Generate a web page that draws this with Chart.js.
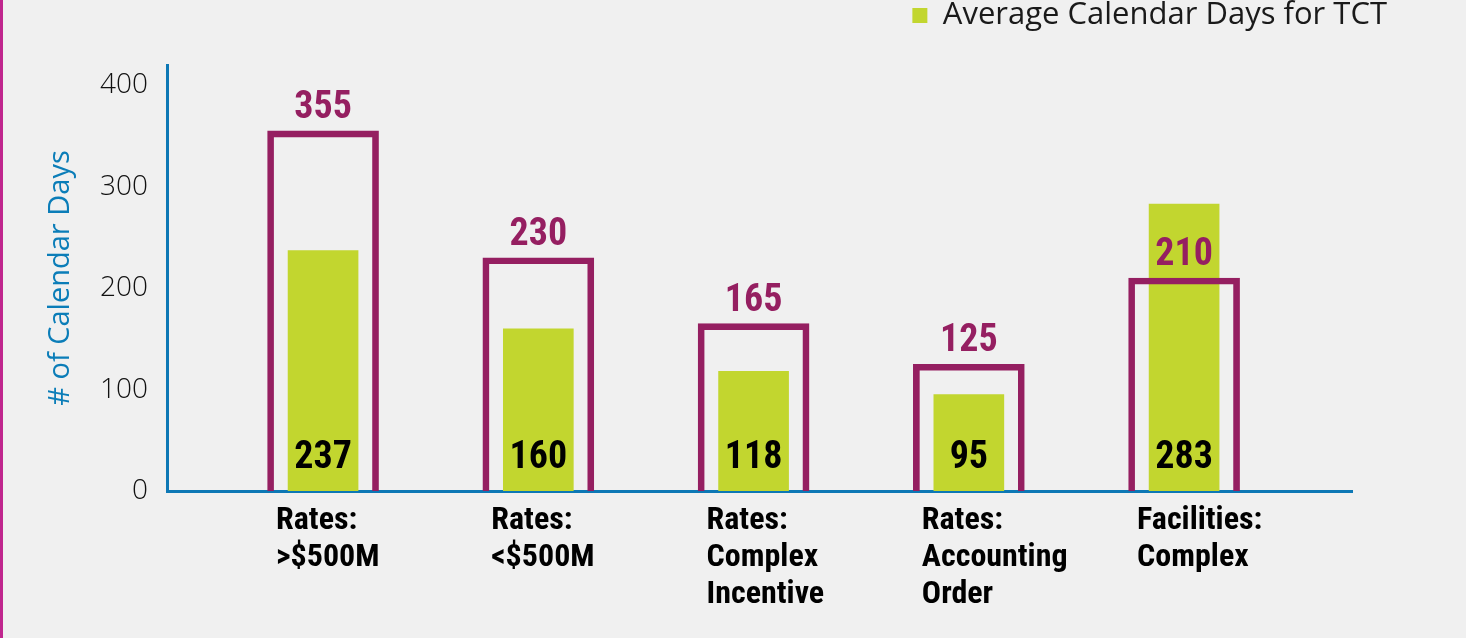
<!DOCTYPE html>
<html>
<head>
<meta charset="utf-8">
<script src="https://cdn.jsdelivr.net/npm/chart.js@4.4.1/dist/chart.umd.min.js"></script>
<style>
  html, body { margin: 0; padding: 0; background: #f0f0f0; overflow: hidden; }
  #wrap { position: relative; width: 1466px; height: 638px; }
  #edge { position: absolute; left: 0; top: 0; width: 3px; height: 638px; background: #c0268e; }
</style>
</head>
<body>
<div id="wrap">
  <canvas id="c"></canvas>
  <div id="edge"></div>
</div>
<script>
// ---- data ----
const categories = [
  ["Rates:", ">$500M"],
  ["Rates:", "<$500M"],
  ["Rates:", "Complex", "Incentive"],
  ["Rates:", "Accounting", "Order"],
  ["Facilities:", "Complex"]
];
const avgTctDays = [237, 160, 118, 95, 283];
const targetDays = [355, 230, 165, 125, 210];
const yTickValues = [0, 100, 200, 300, 400];
const legendLabel = "Average Calendar Days for TCT";
const targetLabel = "Target Calendar Days";
const yTitle = "# of Calendar Days";

const GREEN = '#c2d62f';
const PLUM = '#951f61';
const BLUE = '#0d78b5';
const NARROW = "'Noto Sans ExtraCondensed', 'Roboto Condensed', 'Noto Sans Condensed', 'DejaVu Sans Condensed', sans-serif";
const SANS = "'Open Sans', 'Noto Sans', sans-serif";

const toPoints = arr => arr.map((v, i) => ({ x: i, y: v }));

const valueLabels = {
  id: 'valueLabels',
  afterDatasetsDraw(chart) {
    const ctx = chart.ctx;
    chart.data.datasets.forEach((ds, di) => {
      const meta = chart.getDatasetMeta(di);
      meta.data.forEach((bar, i) => {
        const p = bar.getProps(['x', 'y', 'base'], true);
        ctx.save();
        ctx.font = "bold 38px " + NARROW;
        ctx.fillStyle = ds.valueColor;
        ctx.textAlign = 'center';
        ctx.textBaseline = 'alphabetic';
        const y = ds.valueInside ? p.base - 23 : p.y - 13;
        ctx.fillText(String(ds.data[i].y), p.x, y);
        ctx.restore();
      });
    });
  }
};

new Chart(document.getElementById('c'), {
  type: 'bar',
  data: {
    datasets: [
      {
        label: legendLabel,
        data: toPoints(avgTctDays),
        backgroundColor: GREEN,
        borderWidth: 0,
        barThickness: 70,
        grouped: false,
        order: 2,
        valueColor: '#000000',
        valueInside: true
      },
      {
        label: targetLabel,
        data: toPoints(targetDays),
        backgroundColor: 'rgba(0,0,0,0)',
        borderColor: PLUM,
        borderWidth: 6,
        borderSkipped: 'bottom',
        barThickness: 111,
        grouped: false,
        order: 1,
        valueColor: PLUM,
        valueInside: false
      }
    ]
  },
  options: {
    responsive: true,
    maintainAspectRatio: false,
    animation: false,
    layout: { padding: { top: 0, right: 79, bottom: 0, left: 0 } },
    plugins: {
      tooltip: { enabled: false },
      legend: {
        position: 'top',
        align: 'end',
        labels: {
          filter: item => item.datasetIndex === 0,
          boxWidth: 15,
          boxHeight: 15,
          padding: 0,
          color: '#1a1a1a',
          font: { family: SANS, size: 31 }
        }
      }
    },
    scales: {
      x: {
        type: 'linear',
        offset: false,
        min: -0.725,
        max: 4.78,
        grid: { display: false, drawTicks: false },
        border: { display: true, color: BLUE, width: 3 },
        afterBuildTicks: s => { s.ticks = categories.map((c, i) => ({ value: i })); },
        afterFit: s => { s.height = 147; },
        ticks: {
          autoSkip: false,
          maxRotation: 0,
          minRotation: 0,
          align: 'start',
          labelOffset: -47,
          padding: 12,
          color: '#000000',
          font: { family: NARROW, size: 32, weight: 'bold', lineHeight: 1.15 },
          callback: v => categories[v]
        }
      },
      y: {
        min: 0,
        max: 420,
        grid: { display: false, drawTicks: false },
        border: { display: true, color: BLUE, width: 3 },
        afterBuildTicks: s => { s.ticks = yTickValues.map(v => ({ value: v })); },
        afterFit: s => { s.width = 167; },
        ticks: {
          padding: 19,
          color: '#111111',
          font: { family: SANS, size: 28, weight: '300' }
        },
        title: {
          display: true,
          text: yTitle,
          color: '#0b7db8',
          padding: { top: 43, bottom: 0 },
          font: { family: SANS, size: 29 }
        }
      },
      padTop: {
        type: 'linear',
        position: 'top',
        display: true,
        grid: { display: false, drawTicks: false },
        border: { display: false },
        ticks: { display: false },
        afterFit: s => { s.height = 24; }
      },
      padRight: {
        type: 'linear',
        position: 'right',
        display: true,
        grid: { display: false, drawTicks: false },
        border: { display: false },
        ticks: { display: false },
        afterFit: s => { s.width = 35; }
      }
    }
  },
  plugins: [valueLabels]
});
</script>
</body>
</html>
